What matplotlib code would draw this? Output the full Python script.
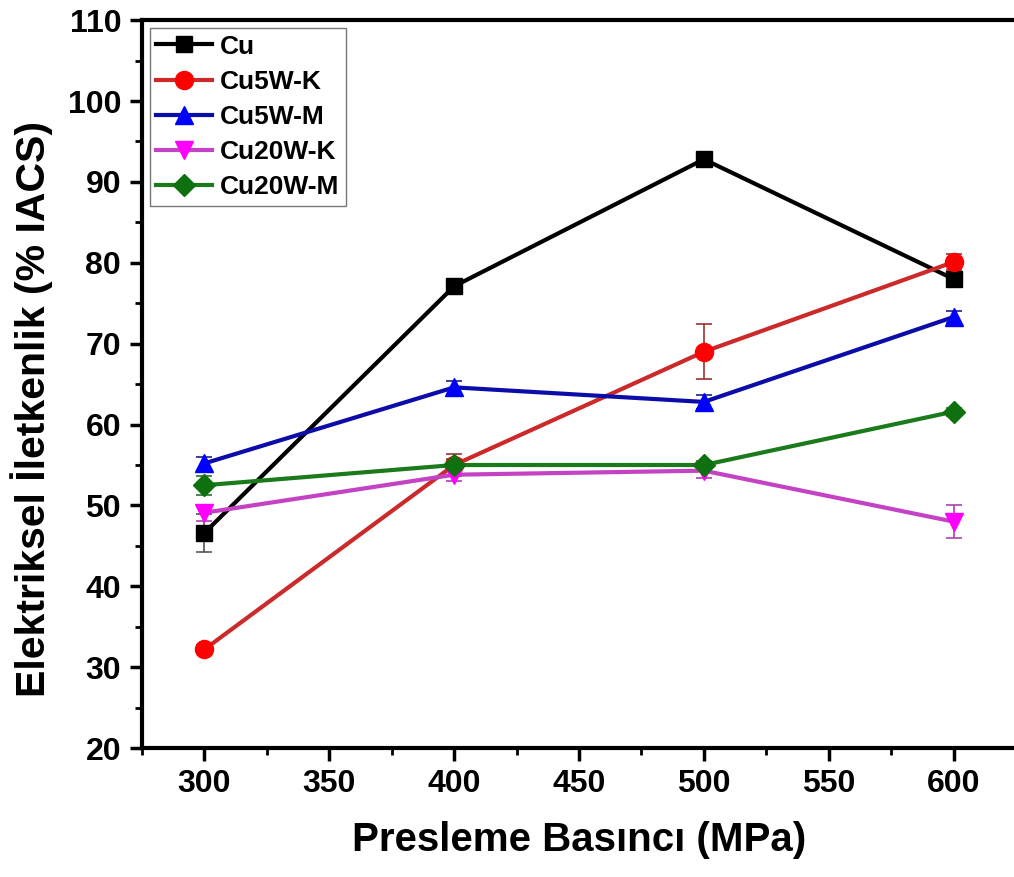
import numpy as np
import matplotlib
matplotlib.use('Agg')
import matplotlib.pyplot as plt
from matplotlib import ticker

plt.rcParams['font.family'] = 'Liberation Sans'
plt.rcParams['font.weight'] = 'bold'

pressure = [300, 400, 500, 600]
labels = ['Cu', 'Cu5W-K', 'Cu5W-M', 'Cu20W-K', 'Cu20W-M']
cu = [46.6, 77.1, 92.8, 78.0]
cu5w_k = [32.2, 55.0, 69.0, 80.1]
cu5w_m = [55.2, 64.6, 62.8, 73.3]
cu20w_k = [49.1, 53.8, 54.3, 48.0]
cu20w_m = [52.5, 55.0, 55.0, 61.6]
cu_err = [2.3, 0.5, 0.5, 0.5]
cu5w_k_err = [0.5, 1.3, 3.4, 1.0]
cu5w_m_err = [0.8, 0.8, 0.9, 0.8]
cu20w_k_err = [1.0, 0.8, 0.9, 2.0]
cu20w_m_err = [1.2, 0.8, 0.5, 0.5]

series = [cu, cu5w_k, cu5w_m, cu20w_k, cu20w_m]
errors = [cu_err, cu5w_k_err, cu5w_m_err, cu20w_k_err, cu20w_m_err]
line_colors = ['#000000', '#cc2a2a', '#0c0ca8', '#c442c4', '#1b7a1b']
marker_colors = ['#000000', '#ff0000', '#0000ff', '#ff00ff', '#0f700f']
err_colors = ['#555555', '#a03030', '#202080', '#b040b0', '#307030']
markers = ['s', 'o', '^', 'v', 'D']
msizes = [11, 13, 13, 13, 11]

fig = plt.figure(figsize=(10.14, 8.77), dpi=100)
ax = fig.add_axes([0.140, 0.147, 0.862, 0.830])

for y, e, lab, lc, mc, ec, m, ms in zip(series, errors, labels, line_colors,
                                         marker_colors, err_colors, markers, msizes):
    ax.errorbar(pressure, y, yerr=e, fmt='none', ecolor=ec, elinewidth=1.2,
                capsize=6, capthick=1.2, zorder=2)
    ax.plot(pressure, y, color=lc, linewidth=3, marker=m, markersize=ms,
            markerfacecolor=mc, markeredgecolor=mc, label=lab, zorder=3)

ax.set_xlim(275, 625)
ax.set_ylim(20, 110)
ax.xaxis.set_major_locator(ticker.MultipleLocator(50))
ax.xaxis.set_minor_locator(ticker.MultipleLocator(25))
ax.yaxis.set_major_locator(ticker.MultipleLocator(10))
ax.yaxis.set_minor_locator(ticker.MultipleLocator(5))
ax.tick_params(which='major', direction='out', length=9, width=2.5, labelsize=23, pad=6)
ax.tick_params(which='minor', direction='out', length=5, width=2)
for side in ['left', 'bottom', 'top']:
    ax.spines[side].set_linewidth(3)
ax.spines['right'].set_linewidth(1.5)
ax.spines['right'].set_color('#888888')

ax.set_xlabel('Presleme Basıncı (MPa)', fontsize=29, fontweight='bold', labelpad=16)
ax.set_ylabel('Elektriksel İletkenlik (% IACS)', fontsize=29.5, fontweight='bold')
ax.yaxis.set_label_coords(-0.102, 0.466)

leg = ax.legend(loc='upper left', fontsize=19, frameon=True, fancybox=False,
                edgecolor='#555555', handlelength=2.1, borderaxespad=0.3,
                labelspacing=0.42, handletextpad=0.3, borderpad=0.25)
leg.get_frame().set_linewidth(1)

fig.savefig('out.png', dpi=100)
